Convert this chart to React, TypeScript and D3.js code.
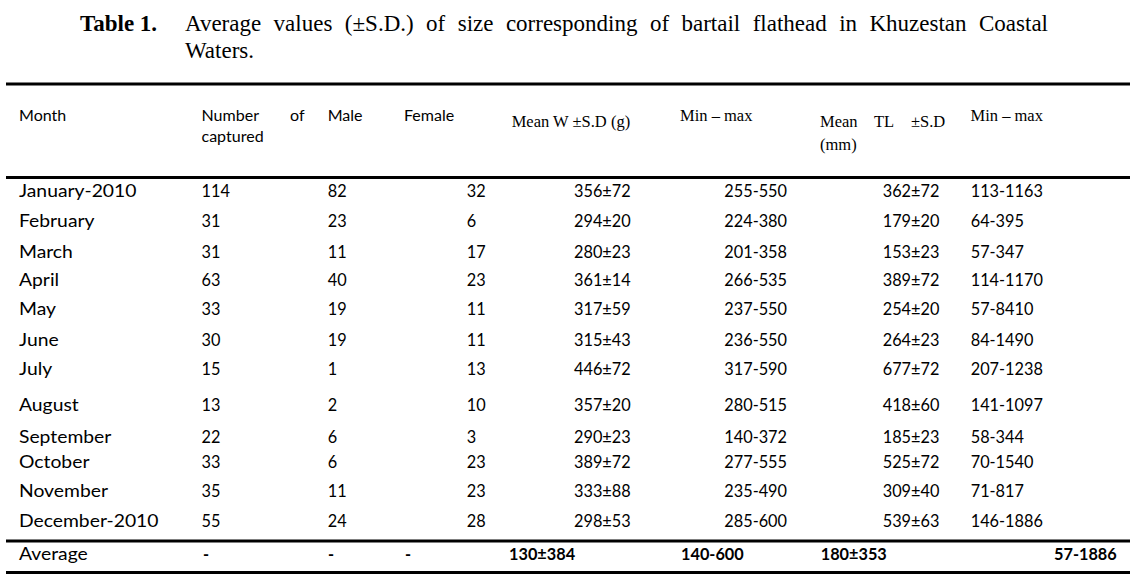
import React, { useLayoutEffect, useRef, useState } from "react";
import * as d3 from "d3";

// ---------- data ----------
const titleLabel = "Table 1.";
const titleLine1 = "Average values (±S.D.) of size corresponding of bartail flathead in Khuzestan Coastal";
const titleLine2 = "Waters.";

const months = [
  "January-2010", "February", "March", "April", "May", "June", "July",
  "August", "September", "October", "November", "December-2010",
];
const captured = [114, 31, 31, 63, 33, 30, 15, 13, 22, 33, 35, 55];
const male = [82, 23, 11, 40, 19, 19, 1, 2, 6, 6, 11, 24];
const female = [32, 6, 17, 23, 11, 11, 13, 10, 3, 23, 23, 28];
const meanW = ["356±72", "294±20", "280±23", "361±14", "317±59", "315±43", "446±72", "357±20", "290±23", "389±72", "333±88", "298±53"];
const rangeW = ["255-550", "224-380", "201-358", "266-535", "237-550", "236-550", "317-590", "280-515", "140-372", "277-555", "235-490", "285-600"];
const meanTL = ["362±72", "179±20", "153±23", "389±72", "254±20", "264±23", "677±72", "418±60", "185±23", "525±72", "309±40", "539±63"];
const rangeTL = ["113-1163", "64-395", "57-347", "114-1170", "57-8410", "84-1490", "207-1238", "141-1097", "58-344", "70-1540", "71-817", "146-1886"];
const averageRow = ["Average", "-", "-", "-", "130±384", "140-600", "180±353", "57-1886"];

const columns = ["month", "captured", "male", "female", "meanW", "rangeW", "meanTL", "rangeTL"];

// ---------- layout ----------
const W = 1137;
const H = 582;
const SANS = "Lato, 'Open Sans', sans-serif";
const SERIF = "'Liberation Serif', 'Times New Roman', serif";

const colX = d3.scaleOrdinal<string, number>()
  .domain(columns)
  .range([19, 201.5, 327.7, 466.7, 574, 724.3, 882.7, 970.7]);
const avgX = d3.scaleOrdinal<string, number>()
  .domain(columns)
  .range([19, 203, 328, 405, 509, 681, 820.7, 1054]);
const rowY = d3.scaleOrdinal<string, number>()
  .domain(months)
  .range([197, 227, 257.5, 286, 315, 346, 374.5, 411, 442.5, 468, 497, 526.5]);
const avgY = 560;

const ruleYs = [84, 177.5, 541, 572.5];
const ruleX0 = 6;
const ruleX1 = 1130;

const BODY_SIZE = 16.3;
const WORD_SIZE = 16.8;
const WORD_STRETCH = 1.15;
const HEAD_SIZE = 15;
const HEAD_STRETCH = 1.07;

type HeaderItem = { text: string; x: number; y: number; serif?: boolean };
const headerItems: HeaderItem[] = [
  { text: "Month", x: 19, y: 120.7 },
  { text: "Number", x: 201.5, y: 120.7 },
  { text: "of", x: 290, y: 120.7 },
  { text: "captured", x: 201.5, y: 141.7 },
  { text: "Male", x: 327.7, y: 120.7 },
  { text: "Female", x: 404, y: 120.7 },
  { text: "Mean W ±S.D (g)", x: 511.7, y: 126.7, serif: true },
  { text: "Min – max", x: 680, y: 120.7, serif: true },
  { text: "Mean", x: 820, y: 126.7, serif: true },
  { text: "TL", x: 874, y: 126.7, serif: true },
  { text: "±S.D", x: 911, y: 126.7, serif: true },
  { text: "(mm)", x: 820, y: 149.5, serif: true },
  { text: "Min – max", x: 970.5, y: 120.7, serif: true },
];

export default function App() {
  const t1Ref = useRef<SVGTextElement>(null);
  const [wordSpacing, setWordSpacing] = useState(0);
  const line1Start = 185;
  const line1End = 1048;

  useLayoutEffect(() => {
    const el = t1Ref.current;
    if (!el) return;
    el.style.wordSpacing = "0px";
    const len = el.getComputedTextLength();
    const spaces = titleLine1.split(" ").length - 1;
    setWordSpacing(Math.max(0, (line1End - line1Start - len) / spaces));
  }, []);

  const rows = months.map((m, i) => ({
    month: m,
    captured: String(captured[i]),
    male: String(male[i]),
    female: String(female[i]),
    meanW: meanW[i],
    rangeW: rangeW[i],
    meanTL: meanTL[i],
    rangeTL: rangeTL[i],
  }));

  return (
    <svg
      width={W}
      height={H}
      viewBox={`0 0 ${W} ${H}`}
      style={{ position: "absolute", left: 0, top: 0, background: "#fff" }}
    >
      <rect x={0} y={0} width={W} height={H} fill="#fff" />
      {/* title */}
      <text x={80} y={31} fontFamily={SERIF} fontSize={23} fontWeight="bold" fill="#000">
        {titleLabel}
      </text>
      <text
        ref={t1Ref}
        x={line1Start}
        y={31}
        fontFamily={SERIF}
        fontSize={23}
        fill="#000"
        style={{ wordSpacing: `${wordSpacing}px` }}
      >
        {titleLine1}
      </text>
      <text x={line1Start} y={58} fontFamily={SERIF} fontSize={23} fill="#000">
        {titleLine2}
      </text>

      {/* rules */}
      {ruleYs.map((y, i) => (
        <line key={i} x1={ruleX0} x2={ruleX1} y1={y} y2={y} stroke="#000" strokeWidth={3} />
      ))}

      {/* header */}
      {headerItems.map((h, i) =>
        h.serif ? (
          <text key={i} x={h.x} y={h.y} fontFamily={SERIF} fontSize={16.5} fill="#000">
            {h.text}
          </text>
        ) : (
          <text
            key={i}
            transform={`translate(${h.x},${h.y}) scale(${HEAD_STRETCH},1)`}
            fontFamily={SANS}
            fontSize={HEAD_SIZE}
            fill="#000"
          >
            {h.text}
          </text>
        )
      )}

      {/* body */}
      {rows.map((r) => (
        <g key={r.month}>
          {columns.map((c) =>
            c === "month" ? (
              <text
                key={c}
                transform={`translate(${colX(c)},${rowY(r.month)}) scale(${WORD_STRETCH},1)`}
                fontFamily={SANS}
                fontSize={WORD_SIZE}
                fill="#000"
              >
                {r.month}
              </text>
            ) : (
              <text
                key={c}
                x={colX(c)}
                y={rowY(r.month)}
                fontFamily={SANS}
                fontSize={BODY_SIZE}
                fill="#000"
              >
                {(r as any)[c]}
              </text>
            )
          )}
        </g>
      ))}

      {/* average */}
      {columns.map((c, i) =>
        i === 0 ? (
          <text
            key={c}
            transform={`translate(${avgX(c)},${avgY}) scale(${WORD_STRETCH},1)`}
            fontFamily={SANS}
            fontSize={WORD_SIZE}
            fill="#000"
          >
            {averageRow[i]}
          </text>
        ) : (
          <text
            key={c}
            x={avgX(c)}
            y={avgY}
            fontFamily={SANS}
            fontSize={BODY_SIZE}
            fontWeight="bold"
            fill="#000"
          >
            {averageRow[i]}
          </text>
        )
      )}
    </svg>
  );
}
